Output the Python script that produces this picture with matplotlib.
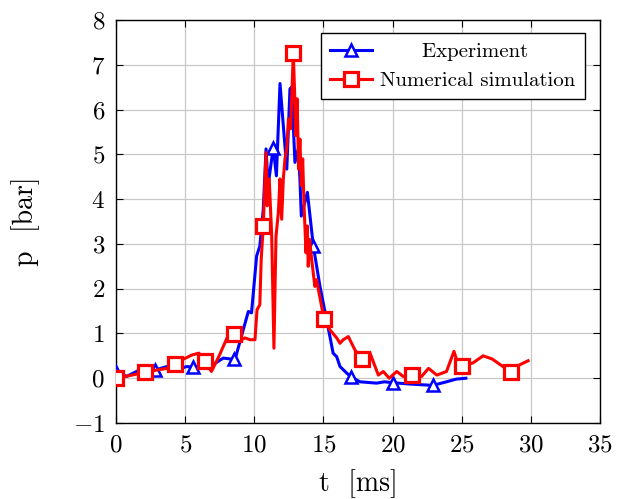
import numpy as np
import matplotlib
matplotlib.use("Agg")
import matplotlib.pyplot as plt

# Experiment (blue)
t_exp = [0.0, 0.77, 1.74, 2.8, 3.67, 4.39, 5.1, 5.6, 6.3, 7.0, 7.76, 8.5, 8.6, 9.2, 9.57, 9.8,
         10.17, 10.4, 10.65, 10.85, 11.0, 11.37, 11.6, 11.86, 12.1, 12.35, 12.58, 12.7, 12.94,
         13.18, 13.3, 13.4, 13.84, 14.27, 14.75, 15.47, 15.7, 15.96, 16.2, 16.7, 17.0, 17.64,
         18.85, 19.4, 20.0, 21.26, 22.9, 23.9, 24.6, 25.3]
p_exp = [0.15, 0.04, 0.19, 0.18, 0.26, 0.19, 0.26, 0.25, 0.26, 0.30, 0.45, 0.42, 0.41, 1.08, 1.49, 1.46,
         2.73, 2.95, 3.77, 5.12, 4.3, 5.15, 4.52, 6.58, 5.64, 4.67, 6.46, 6.5, 4.82,
         5.12, 4.45, 3.62, 4.15, 2.95, 2.05, 0.93, 0.56, 0.48, 0.26, 0.11, 0.03, -0.08,
         -0.11, -0.08, -0.10, -0.13, -0.16, -0.08, -0.02, 0.0]
mark_exp_t = [0.0, 2.8, 5.6, 8.5, 11.37, 14.27, 17.0, 20.0, 22.9]

# Numerical simulation (red)
t_sim = [0.0, 1.16, 2.07, 3.09, 3.7, 4.24, 4.77, 5.5, 6.0, 6.4, 6.9, 7.43, 8.03, 8.5, 8.84, 9.33,
         9.69, 10.05, 10.2, 10.4, 10.5, 10.65, 10.85, 10.94, 11.08, 11.26, 11.42, 11.57, 11.74,
         11.86, 11.98, 12.1, 12.22, 12.35, 12.47, 12.63, 12.82, 12.94, 13.0, 13.1, 13.2, 13.3,
         13.4, 13.5, 13.6, 13.74, 13.84, 13.9, 14.0, 14.15, 14.38, 14.5, 14.87, 15.04, 15.47,
         15.96, 16.2, 16.43, 16.8, 17.28, 17.8, 18.37, 18.97, 19.33, 19.76, 20.3, 20.77, 21.4,
         22.1, 22.6, 23.2, 23.9, 24.44, 24.75, 25.0, 25.8, 26.55, 27.2, 27.8, 28.6, 29.2, 29.8]
p_sim = [0.0, 0.07, 0.13, 0.19, 0.22, 0.32, 0.41, 0.52, 0.56, 0.39, 0.15, 0.48, 0.9, 0.99, 0.82, 0.9,
         0.86, 0.86, 1.53, 1.64, 2.65, 3.4, 5.04, 3.85, 4.45, 3.17, 0.67, 3.17, 3.7,
         4.45, 3.55, 4.45, 4.9, 5.12, 5.79, 5.57, 7.26, 6.17, 5.42, 6.24, 4.67, 5.34,
         4.3, 4.9, 3.85, 2.8, 3.4, 2.5, 3.1, 2.65, 2.05, 2.2, 1.6, 1.33, 1.08,
         0.9, 0.78, 0.86, 0.93, 0.63, 0.44, 0.56, 0.07, 0.15, 0.0, 0.15, 0.04, 0.07,
         0.04, 0.22, 0.07, 0.15, 0.6, 0.3, 0.27, 0.34, 0.5, 0.43, 0.3, 0.13, 0.3, 0.39]
mark_sim_t = [0.0, 2.07, 4.24, 6.4, 8.5, 10.65, 12.82, 15.04, 17.8, 21.4, 25.0, 28.6]

x_ticks = [0, 5, 10, 15, 20, 25, 30, 35]
y_ticks = [-1, 0, 1, 2, 3, 4, 5, 6, 7, 8]

plt.rcParams['font.family'] = ['cmr10', 'DejaVu Serif']
plt.rcParams['mathtext.fontset'] = 'cm'
plt.rcParams['axes.formatter.use_mathtext'] = True
plt.rcParams['axes.unicode_minus'] = True

t_exp = np.array(t_exp); p_exp = np.array(p_exp)
t_sim = np.array(t_sim); p_sim = np.array(p_sim)
me_exp = [int(np.argmin(np.abs(t_exp - m))) for m in mark_exp_t]
me_sim = [int(np.argmin(np.abs(t_sim - m))) for m in mark_sim_t]

fig = plt.figure(figsize=(6.19, 4.99), dpi=100)
ax = fig.add_axes([0.1874, 0.1523, 0.7819, 0.8077])

ax.plot(t_exp, p_exp, color='#0000ff', lw=2.2, marker='^', markevery=me_exp,
        markersize=8.5, markerfacecolor='white', markeredgecolor='#0000ff', markeredgewidth=1.8,
        label='Experiment', zorder=3)
ax.plot(t_sim, p_sim, color='#ff0000', lw=2.2, marker='s', markevery=me_sim,
        markersize=10, markerfacecolor='white', markeredgecolor='#ff0000', markeredgewidth=2.3,
        label='Numerical simulation', zorder=4)

ax.set_xlim(0, 35)
ax.set_ylim(-1, 8)
ax.set_xticks(x_ticks)
ax.set_yticks(y_ticks)
ax.grid(True, color='#c8c8c8', lw=0.9)
ax.set_axisbelow(True)
ax.tick_params(direction='in', top=True, right=True, length=5, width=0.8, labelsize=18, pad=8)
for s in ax.spines.values():
    s.set_linewidth(1.0)

ax.set_xlabel('t  [ms]', fontsize=20, labelpad=9)
ax.set_ylabel('p  [bar]', fontsize=20, labelpad=24)

handles, labels = ax.get_legend_handles_labels()
labels = ['      Experiment', 'Numerical simulation']
leg = ax.legend(handles, labels, loc='upper right', fontsize=15, fancybox=False, framealpha=1,
                edgecolor='black', borderpad=0.45, handlelength=2.0, handletextpad=0.4,
                labelspacing=0.5, borderaxespad=0, bbox_to_anchor=(0.969, 0.968))
leg.get_frame().set_linewidth(1.0)

fig.savefig('out.png', dpi=100)
